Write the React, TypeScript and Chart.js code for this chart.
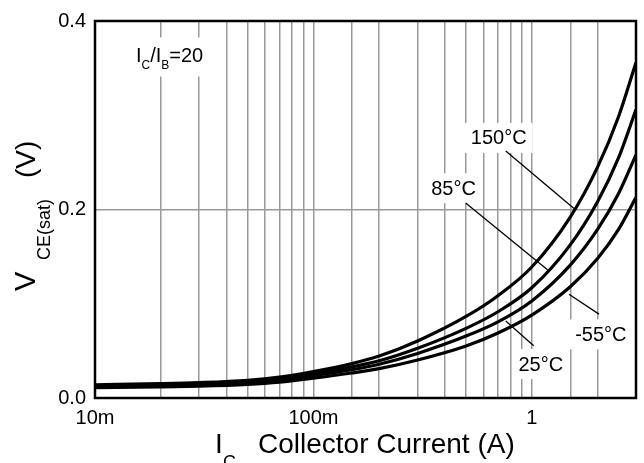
import React, { useEffect, useRef } from "react";
import { Chart, registerables } from "chart.js";

Chart.register(...registerables);

// ---- data ----
const currents = [0.01, 0.02, 0.03, 0.05, 0.07, 0.1, 0.15, 0.2, 0.3, 0.5, 0.7, 1, 1.5, 2, 2.5, 3];
const vce150 = [0.014, 0.0152, 0.0163, 0.0188, 0.0222, 0.028, 0.0365, 0.0445, 0.0605, 0.0865, 0.1085, 0.139, 0.192, 0.245, 0.299, 0.356];
const vce85 = [0.013, 0.0141, 0.0151, 0.0175, 0.0205, 0.0257, 0.033, 0.0395, 0.0528, 0.0739, 0.0915, 0.117, 0.1625, 0.2082, 0.2553, 0.306];
const vce25 = [0.012, 0.013, 0.014, 0.0161, 0.0189, 0.0236, 0.03, 0.0358, 0.0473, 0.0657, 0.0808, 0.103, 0.141, 0.1788, 0.2172, 0.258];
const vceM55 = [0.011, 0.0118, 0.0126, 0.0145, 0.0169, 0.0211, 0.0265, 0.0311, 0.0403, 0.0552, 0.069, 0.088, 0.118, 0.148, 0.1792, 0.213];

const xTickLabels = ["10m", "100m", "1"];
const xTickValues = [0.01, 0.1, 1];
const yTickLabels = ["0.0", "0.2", "0.4"];

// curve labels (data coordinates)
const labelTexts = ["150°C", "85°C", "-55°C", "25°C"];
const labelX = [0.706, 0.438, 2.07, 1.1];
const labelY = [0.276, 0.2225, 0.0675, 0.036];
const leaderX1 = [0.76, 0.498, 1.48, 0.76];
const leaderY1 = [0.262, 0.207, 0.11, 0.0817];
const leaderX2 = [1.56, 1.18, 2.03, 1.02];
const leaderY2 = [0.201, 0.136, 0.089, 0.0555];

const ratioX = 0.0154;
const ratioY = 0.356;

const FONT = "'Liberation Sans', Arial, Helvetica, sans-serif";

export default function App() {
  const ref = useRef<HTMLCanvasElement | null>(null);

  useEffect(() => {
    document.body.style.margin = "0";
    const canvas = ref.current!;
    const overlay = {
      id: "overlay",
      afterDatasetsDraw(chart: any) {
        const ctx = chart.ctx;
        const xs = chart.scales.x;
        const ys = chart.scales.y;
        ctx.save();
        // I_C/I_B=20 box
        const rx = xs.getPixelForValue(ratioX);
        const ry = ys.getPixelForValue(ratioY);
        ctx.fillStyle = "#fff";
        ctx.fillRect(rx - 6, ry - 25, 78, 39);
        ctx.fillStyle = "#000";
        ctx.textBaseline = "alphabetic";
        ctx.textAlign = "left";
        let cx = rx;
        const big = `20px ${FONT}`;
        const small = `12px ${FONT}`;
        const parts: [string, boolean][] = [["I", false], ["C", true], ["/I", false], ["B", true], ["=20", false]];
        for (const [t, sub] of parts) {
          ctx.font = sub ? small : big;
          ctx.fillText(t, cx, sub ? ry + 7 : ry);
          cx += ctx.measureText(t).width;
        }
        // labels
        ctx.font = `20px ${FONT}`;
        ctx.textAlign = "center";
        ctx.textBaseline = "middle";
        for (let i = 0; i < labelTexts.length; i++) {
          const px = xs.getPixelForValue(labelX[i]);
          const py = ys.getPixelForValue(labelY[i]);
          const w = ctx.measureText(labelTexts[i]).width;
          ctx.fillStyle = "#fff";
          ctx.fillRect(px - w / 2 - 6, py - 15, w + 12, 30);
          ctx.fillStyle = "#000";
          ctx.fillText(labelTexts[i], px, py + 1);
          ctx.strokeStyle = "#000";
          ctx.lineWidth = 1.3;
          ctx.beginPath();
          ctx.moveTo(xs.getPixelForValue(leaderX1[i]), ys.getPixelForValue(leaderY1[i]));
          ctx.lineTo(xs.getPixelForValue(leaderX2[i]), ys.getPixelForValue(leaderY2[i]));
          ctx.stroke();
        }
        ctx.restore();
      },
      afterDraw(chart: any) {
        const ctx = chart.ctx;
        const a = chart.chartArea;
        ctx.save();
        ctx.strokeStyle = "#000";
        ctx.lineWidth = 2.5;
        ctx.strokeRect(a.left, a.top, a.right - a.left, a.bottom - a.top);
        ctx.fillStyle = "#000";
        ctx.textAlign = "left";
        ctx.textBaseline = "alphabetic";
        // x title
        ctx.font = `28px ${FONT}`;
        ctx.fillText("I", 215, 453);
        ctx.font = `18px ${FONT}`;
        ctx.fillText("C", 223, 468);
        ctx.font = `28px ${FONT}`;
        ctx.fillText("Collector Current (A)", 258, 453);
        // y title
        ctx.translate(35, 291);
        ctx.rotate(-Math.PI / 2);
        ctx.font = `29px ${FONT}`;
        ctx.fillText("V", 0, 0);
        ctx.font = `18px ${FONT}`;
        ctx.fillText("CE(sat)", 31, 15);
        ctx.font = `28px ${FONT}`;
        ctx.fillText("(V)", 113, 0);
        ctx.restore();
      },
    };

    const chart = new Chart(canvas, {
      type: "line",
      data: {
        labels: currents,
        datasets: [vce150, vce85, vce25, vceM55].map((d, i) => ({
          label: labelTexts[i],
          data: currents.map((c, j) => ({ x: c, y: d[j] })),
          borderColor: "#000",
          borderWidth: 3.2,
          pointRadius: 0,
          fill: false,
          cubicInterpolationMode: "monotone" as const,
        })),
      },
      options: {
        animation: false,
        responsive: false,
        maintainAspectRatio: false,
        layout: { padding: { top: 16, right: 8, left: 0, bottom: 0 } },
        plugins: { legend: { display: false }, tooltip: { enabled: false }, title: { display: false } },
        scales: {
          x: {
            type: "logarithmic",
            min: 0.01,
            max: 3,
            afterFit: (s: any) => {
              s.height = 65;
            },
            grid: { color: "#999", lineWidth: 1.5, drawTicks: false },
            border: { display: false },
            ticks: {
              autoSkip: false,
              maxRotation: 0,
              padding: 8,
              color: "#000",
              font: { family: FONT, size: 20 },
              callback: (v: any) => {
                const idx = xTickValues.findIndex((t) => Math.abs(Number(v) - t) / t < 1e-6);
                return idx >= 0 ? xTickLabels[idx] : "";
              },
            },
          },
          y: {
            type: "linear",
            min: 0,
            max: 0.4,
            afterFit: (s: any) => {
              s.width = 95;
            },
            grid: { color: "#999", lineWidth: 1.5, drawTicks: false },
            border: { display: false },
            ticks: {
              stepSize: 0.2,
              padding: 9,
              color: "#000",
              font: { family: FONT, size: 20 },
              callback: (v: any) => yTickLabels[Math.round(Number(v) / 0.2)] ?? "",
            },
          },
        },
      },
      plugins: [overlay],
    });
    return () => chart.destroy();
  }, []);

  return <canvas ref={ref} width={644} height={463} style={{ display: "block", width: 644, height: 463 }} />;
}
